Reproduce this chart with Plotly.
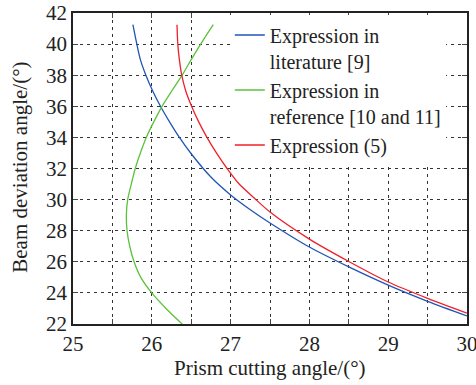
import plotly.graph_objects as go

# Expression in literature [9]
blue_x = [25.76, 25.81, 25.855, 25.925, 26.01, 26.11, 26.225, 26.35, 26.50, 26.75, 27.00, 27.25, 27.50, 28.00, 28.50, 29.00, 29.50, 30.00]
blue_y = [41.25, 40.0, 39.0, 38.0, 37.0, 36.0, 35.0, 34.0, 32.95, 31.45, 30.3, 29.35, 28.5, 26.95, 25.67, 24.50, 23.46, 22.52]

# Expression in reference [10 and 11]
green_x = [26.385, 26.18, 26.00, 25.86, 25.775, 25.72, 25.686, 25.677, 25.694, 25.74, 25.79, 25.855, 25.93, 26.025, 26.13, 26.255, 26.385, 26.50, 26.62, 26.78]
green_y = [22.0, 23.0, 24.0, 25.0, 26.0, 27.0, 28.0, 29.0, 30.0, 31.0, 32.0, 33.0, 34.0, 35.0, 36.0, 37.0, 38.0, 39.0, 40.0, 41.25]

# Expression (5)
red_x = [26.32, 26.33, 26.35, 26.38, 26.43, 26.505, 26.595, 26.70, 26.82, 26.955, 27.10, 27.30, 27.50, 28.00, 28.50, 29.00, 29.50, 30.00]
red_y = [41.25, 40.0, 39.0, 38.0, 37.0, 36.0, 35.0, 34.0, 33.0, 32.0, 31.05, 30.1, 29.2, 27.46, 26.02, 24.70, 23.65, 22.70]

names = ["Expression in<br>literature [9]", "Expression in<br>reference [10 and 11]", "Expression (5)"]
colors = ["#2155b5", "#5cc23a", "#f0202a"]

x_title = "Prism cutting angle/(°)"
y_title = "Beam deviation angle/(°)"

FONT = "Liberation Serif, Times New Roman, serif"
TXT = "#222"
fig = go.Figure()
for xs, ys, nm, c in [(blue_x, blue_y, names[0], colors[0]),
                      (green_x, green_y, names[1], colors[1]),
                      (red_x, red_y, names[2], colors[2])]:
    fig.add_trace(go.Scatter(x=xs, y=ys, mode="lines", name=nm,
                             line=dict(color=c, width=1.3, shape="spline", smoothing=0.8)))

GRID = dict(gridcolor="#333", gridwidth=1, griddash="3px,4px")
fig.update_xaxes(range=[25, 30], dtick=1, tick0=25, ticks="inside", ticklen=5,
                 mirror="ticks", showline=True, linecolor="#222", linewidth=1.5,
                 tickfont=dict(size=21, family=FONT, color=TXT), automargin=False,
                 ticklabeloverflow="allow",
                 minor=dict(dtick=0.5, ticks="inside", ticklen=5, showgrid=True, **GRID),
                 zeroline=False, showgrid=True, **GRID)
fig.update_yaxes(range=[22, 42], dtick=2, ticks="inside", ticklen=5,
                 mirror="ticks", showline=True, linecolor="#222", linewidth=1.5,
                 tickfont=dict(size=21, family=FONT, color=TXT), automargin=False,
                 ticklabeloverflow="allow",
                 zeroline=False, showgrid=True, **GRID)

fig.add_annotation(text=x_title, xref="paper", yref="paper", x=0.5, y=-0.14,
                   xanchor="center", yanchor="middle", showarrow=False,
                   font=dict(size=21, family=FONT, color=TXT))
fig.add_annotation(text=y_title, xref="paper", yref="paper", x=-0.135, y=0.505,
                   xanchor="center", yanchor="middle", showarrow=False, textangle=-90,
                   font=dict(size=21, family=FONT, color=TXT))

fig.update_layout(width=476, height=385, margin=dict(l=73, r=9, t=13, b=61),
                  plot_bgcolor="white", paper_bgcolor="white",
                  font=dict(family=FONT, color=TXT),
                  showlegend=True,
                  legend=dict(x=0.398, y=0.992, xanchor="left", yanchor="top",
                              bgcolor="white", borderwidth=0, valign="top",
                              font=dict(size=20, family=FONT, color=TXT),
                              tracegroupgap=0))
fig.write_html("out.html", config={"displayModeBar": False},
               post_script="document.body.style.margin='0';document.body.style.overflow='hidden';")
